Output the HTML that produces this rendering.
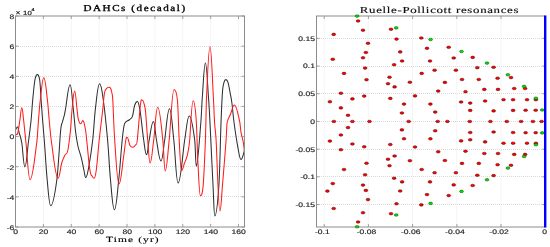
<!DOCTYPE html><html><head><meta charset="utf-8"><style>html,body{margin:0;padding:0;background:#fff;width:550px;height:247px;overflow:hidden}svg{display:block;filter:blur(0.3px);text-rendering:geometricPrecision}</style></head><body>
<svg width="550" height="247" viewBox="0 0 550 247">
<rect width="550" height="247" fill="#fff"/>
<g stroke="#f3f3f3" stroke-width="0.9"><line x1="43.38" y1="16.00" x2="43.38" y2="227.00"/><line x1="71.25" y1="16.00" x2="71.25" y2="227.00"/><line x1="99.12" y1="16.00" x2="99.12" y2="227.00"/><line x1="127.00" y1="16.00" x2="127.00" y2="227.00"/><line x1="154.88" y1="16.00" x2="154.88" y2="227.00"/><line x1="182.75" y1="16.00" x2="182.75" y2="227.00"/><line x1="210.62" y1="16.00" x2="210.62" y2="227.00"/><line x1="238.50" y1="16.00" x2="238.50" y2="227.00"/></g>
<g stroke="#d6d6d6" stroke-width="0.9" stroke-dasharray="1,1"><line x1="16.00" y1="196.50" x2="244.50" y2="196.50"/><line x1="16.00" y1="166.50" x2="244.50" y2="166.50"/><line x1="16.00" y1="136.50" x2="244.50" y2="136.50"/><line x1="16.00" y1="106.50" x2="244.50" y2="106.50"/><line x1="16.00" y1="76.50" x2="244.50" y2="76.50"/><line x1="16.00" y1="46.50" x2="244.50" y2="46.50"/></g>
<g stroke="#f3f3f3" stroke-width="0.9"><line x1="324.20" y1="16.00" x2="324.20" y2="227.00"/><line x1="368.40" y1="16.00" x2="368.40" y2="227.00"/><line x1="412.60" y1="16.00" x2="412.60" y2="227.00"/><line x1="456.80" y1="16.00" x2="456.80" y2="227.00"/><line x1="501.00" y1="16.00" x2="501.00" y2="227.00"/></g>
<g stroke="#d6d6d6" stroke-width="0.9" stroke-dasharray="1,1"><line x1="317.00" y1="204.50" x2="545.20" y2="204.50"/><line x1="317.00" y1="176.50" x2="545.20" y2="176.50"/><line x1="317.00" y1="149.50" x2="545.20" y2="149.50"/><line x1="317.00" y1="121.50" x2="545.20" y2="121.50"/><line x1="317.00" y1="93.50" x2="545.20" y2="93.50"/><line x1="317.00" y1="66.50" x2="545.20" y2="66.50"/><line x1="317.00" y1="38.50" x2="545.20" y2="38.50"/></g>
<path d="M15.50,130.20 C15.85,129.63 16.73,126.80 17.60,126.80 C18.23,126.80 18.37,129.67 19.00,132.10 C19.70,134.80 20.82,137.20 21.80,143.00 C22.78,148.80 23.50,166.90 24.90,166.90 C26.43,166.90 27.27,150.82 28.30,143.00 C29.33,135.18 30.37,127.17 31.10,120.00 C31.82,112.96 32.07,106.67 32.70,100.00 C33.33,93.33 34.13,84.23 34.90,80.00 C35.67,75.77 36.22,74.60 37.30,74.60 C38.38,74.60 39.07,75.77 39.70,80.00 C40.33,84.21 40.62,93.33 41.10,100.00 C41.58,106.67 42.03,112.83 42.60,120.00 C43.17,127.17 43.73,133.00 44.50,143.00 C45.27,153.00 46.17,169.55 47.20,180.00 C48.23,190.45 49.12,205.70 50.70,205.70 C53.10,205.70 55.15,192.45 56.80,180.00 C58.45,167.55 59.67,140.67 60.60,131.00 C61.41,122.61 61.78,124.60 62.40,122.00 C63.02,119.40 63.75,117.73 64.30,115.40 C64.85,113.07 65.07,111.33 65.70,108.00 C66.67,102.88 68.22,84.70 70.10,84.70 C71.50,84.70 72.30,100.28 73.20,108.00 C74.10,115.72 74.73,124.75 75.50,131.00 C76.27,137.25 76.82,140.97 77.80,145.50 C78.78,150.03 80.35,153.95 81.40,158.20 C82.45,162.45 83.38,167.77 84.10,171.00 C84.82,174.23 84.98,177.60 85.70,177.60 C86.85,177.60 87.53,173.57 88.70,167.30 C89.87,161.03 91.57,149.88 92.70,140.00 C93.83,130.12 94.35,117.37 95.50,108.00 C96.65,98.63 97.75,83.80 99.60,83.80 C101.27,83.80 101.97,90.63 103.30,100.00 C104.63,109.37 106.40,126.67 107.60,140.00 C108.80,153.33 109.37,168.37 110.50,180.00 C111.63,191.63 112.65,209.80 114.40,209.80 C116.34,209.80 117.40,191.63 118.70,180.00 C120.00,168.37 121.22,149.38 122.20,140.00 C123.18,130.62 123.52,126.83 124.60,123.70 C125.75,120.37 127.80,121.22 129.10,120.00 C130.40,118.78 131.48,118.82 132.40,116.40 C133.32,113.98 133.78,107.98 134.60,105.50 C135.42,103.02 136.09,101.50 137.30,101.50 C138.56,101.50 139.03,104.48 140.10,110.90 C141.17,117.32 142.62,132.72 143.70,140.00 C144.78,147.28 145.29,154.60 146.60,154.60 C147.77,154.60 148.07,145.52 149.20,140.00 C150.33,134.48 151.57,121.50 153.40,121.50 C154.80,121.50 155.23,133.42 156.50,140.00 C157.77,146.58 158.97,161.00 161.00,161.00 C162.66,161.00 163.28,148.72 164.70,140.00 C166.12,131.28 167.34,108.70 169.50,108.70 C171.44,108.70 172.37,127.62 173.80,140.00 C175.23,152.38 176.16,183.00 178.10,183.00 C180.82,183.00 182.83,151.17 184.70,140.00 C186.57,128.83 187.23,116.00 189.30,116.00 C191.73,116.00 193.53,131.63 194.70,140.00 C195.42,145.16 195.58,166.20 196.30,166.20 C197.83,166.20 199.78,134.70 200.80,123.00 C201.52,114.71 201.68,105.39 202.40,96.00 C203.17,86.00 204.05,63.00 205.40,63.00 C206.75,63.00 207.63,86.00 208.40,96.00 C209.12,105.39 209.28,109.07 210.00,123.00 C210.77,137.83 212.20,169.50 213.00,185.00 C213.80,200.50 213.99,216.00 214.80,216.00 C216.28,216.00 217.87,200.50 218.90,185.00 C219.84,170.83 220.40,138.58 221.00,123.00 C221.60,107.42 222.00,98.27 222.50,91.50 C223.00,84.73 223.45,84.38 224.00,82.40 C224.55,80.42 224.99,79.60 225.80,79.60 C226.79,79.60 227.27,80.12 228.00,82.40 C228.73,84.68 229.55,89.87 230.20,93.30 C230.85,96.73 231.25,98.05 231.90,103.00 C232.55,107.95 233.11,115.74 234.10,123.00 C235.15,130.70 237.05,143.13 238.20,149.20 C239.35,155.27 239.74,159.40 241.00,159.40 C242.26,159.40 243.23,154.47 243.80,152.90 C244.07,152.15 244.30,150.48 244.40,150.00" fill="none" stroke="#2e2e2e" stroke-width="1.05" stroke-linejoin="round"/>
<path d="M15.50,134.90 C15.88,134.58 17.07,135.48 17.80,133.00 C18.53,130.52 19.23,124.22 19.90,120.00 C20.57,115.78 20.95,107.70 21.80,107.70 C22.61,107.70 22.90,114.12 23.60,120.00 C24.30,125.88 24.92,133.08 26.00,143.00 C27.08,152.95 28.26,179.70 30.10,179.70 C32.78,179.70 35.30,152.95 36.70,143.00 C37.51,137.24 37.90,127.17 38.50,120.00 C39.10,112.83 39.49,106.45 40.30,100.00 C41.18,92.97 42.22,77.80 43.80,77.80 C45.42,77.80 46.50,92.97 47.40,100.00 C48.21,106.33 48.50,112.83 49.20,120.00 C49.90,127.17 50.52,135.84 51.60,143.00 C53.07,152.72 55.48,178.30 58.00,178.30 C59.66,178.30 60.53,166.88 61.70,163.00 C62.87,159.12 64.00,157.00 65.00,155.00 C66.00,153.00 66.80,155.00 67.70,151.00 C68.60,147.00 69.65,138.17 70.40,131.00 C71.15,123.83 71.48,114.67 72.20,108.00 C72.92,101.33 73.58,91.00 74.70,91.00 C75.69,91.00 76.30,103.30 76.90,108.00 C77.50,112.70 77.68,116.57 78.30,119.20 C78.92,121.83 79.56,123.80 80.60,123.80 C81.64,123.80 81.98,120.60 82.90,120.60 C83.53,120.60 83.83,122.07 84.30,123.80 C84.77,125.53 85.22,127.47 85.70,131.00 C86.18,134.53 86.65,139.67 87.20,145.00 C87.75,150.33 88.43,158.25 89.00,163.00 C89.57,167.75 90.10,171.33 90.60,173.50 C91.10,175.67 91.43,175.20 92.00,176.00 C92.57,176.80 93.10,178.30 94.00,178.30 C95.03,178.30 95.43,176.38 96.30,170.00 C97.17,163.62 98.17,149.72 99.20,140.00 C100.23,130.28 101.62,119.53 102.50,111.70 C103.38,103.87 103.83,96.85 104.50,93.00 C105.17,89.15 105.80,89.55 106.50,88.60 C107.20,87.65 107.71,87.30 108.70,87.30 C109.55,87.30 110.07,87.25 110.60,88.20 C111.13,89.15 111.53,91.03 111.90,93.00 C112.27,94.97 112.39,93.20 112.80,100.00 C113.27,107.83 113.84,128.42 114.70,140.00 C115.73,154.00 117.06,184.00 119.00,184.00 C120.98,184.00 122.27,165.53 123.40,158.20 C124.48,151.21 125.15,143.45 125.80,140.00 C126.45,136.55 126.62,137.50 127.30,137.50 C128.35,137.50 129.08,143.87 130.00,145.50 C130.92,147.13 131.54,147.30 132.80,147.30 C134.02,147.30 134.75,146.22 135.50,145.00 C136.25,143.78 136.49,146.64 137.30,140.00 C138.13,133.17 139.65,110.62 140.50,104.00 C141.35,97.38 141.55,100.30 142.40,100.30 C143.30,100.30 143.87,103.05 144.40,105.00 C144.93,106.95 145.06,106.27 145.60,112.00 C146.15,117.83 146.95,131.50 147.70,140.00 C148.45,148.50 149.02,163.00 150.10,163.00 C151.60,163.00 152.43,149.28 153.70,140.00 C154.97,130.72 155.90,107.30 157.70,107.30 C159.97,107.30 161.55,129.38 162.80,140.00 C163.88,149.17 164.12,171.00 165.20,171.00 C166.80,171.00 167.73,153.58 169.20,140.00 C170.67,126.42 171.95,89.50 174.00,89.50 C175.53,89.50 176.53,91.58 177.40,100.00 C178.21,107.87 178.52,128.23 179.20,140.00 C179.88,151.77 180.47,170.60 181.50,170.60 C182.76,170.60 183.38,166.07 184.30,163.70 C185.22,161.33 186.25,159.13 187.00,156.40 C187.75,153.67 188.35,150.03 188.80,147.30 C189.21,144.84 189.29,144.38 189.70,140.00 C190.42,132.25 191.57,100.80 193.10,100.80 C194.45,100.80 195.30,108.02 196.10,118.20 C196.90,128.38 197.18,148.97 197.90,161.90 C198.62,174.83 199.28,195.80 200.40,195.80 C201.66,195.80 202.37,194.30 203.20,185.00 C204.03,175.70 204.83,154.83 205.40,140.00 C205.94,125.86 206.06,106.94 206.60,96.00 C207.37,80.47 208.47,46.80 210.00,46.80 C211.49,46.80 212.53,83.30 213.30,96.00 C213.88,105.69 214.13,115.67 214.60,123.00 C215.07,130.33 215.42,128.79 216.10,140.00 C216.98,154.67 218.30,211.00 219.90,211.00 C221.07,211.00 221.47,196.83 222.50,185.00 C223.53,173.17 225.33,150.37 226.10,140.00 C226.55,133.92 226.65,125.37 227.10,122.80 C227.87,118.42 229.48,116.67 230.70,113.70 C231.92,110.73 232.73,105.00 234.40,105.00 C236.62,105.00 238.50,116.58 239.60,121.10 C240.23,123.69 240.38,128.57 241.00,132.10 C241.62,135.63 242.73,139.15 243.30,142.30 C243.80,145.05 244.22,149.55 244.40,151.00" fill="none" stroke="#ff1a1a" stroke-width="1.05" stroke-linejoin="round"/>
<path d="M15.50,227.00v-3.00M15.50,16.00v3.00M43.38,227.00v-3.00M43.38,16.00v3.00M71.25,227.00v-3.00M71.25,16.00v3.00M99.12,227.00v-3.00M99.12,16.00v3.00M127.00,227.00v-3.00M127.00,16.00v3.00M154.88,227.00v-3.00M154.88,16.00v3.00M182.75,227.00v-3.00M182.75,16.00v3.00M210.62,227.00v-3.00M210.62,16.00v3.00M238.50,227.00v-3.00M238.50,16.00v3.00M15.50,227.00h3.00M244.50,227.00h-3.00M15.50,196.86h3.00M244.50,196.86h-3.00M15.50,166.71h3.00M244.50,166.71h-3.00M15.50,136.57h3.00M244.50,136.57h-3.00M15.50,106.43h3.00M244.50,106.43h-3.00M15.50,76.29h3.00M244.50,76.29h-3.00M15.50,46.14h3.00M244.50,46.14h-3.00M15.50,16.00h3.00M244.50,16.00h-3.00" stroke="#8c8c8c" stroke-width="0.8" fill="none"/>
<rect x="15.50" y="16.00" width="229.00" height="211.00" fill="none" stroke="#8c8c8c" stroke-width="1"/>
<path d="M324.20,227.00v-3.00M324.20,16.00v3.00M368.40,227.00v-3.00M368.40,16.00v3.00M412.60,227.00v-3.00M412.60,16.00v3.00M456.80,227.00v-3.00M456.80,16.00v3.00M501.00,227.00v-3.00M501.00,16.00v3.00M545.20,227.00v-3.00M545.20,16.00v3.00M316.50,204.55h3.00M545.20,204.55h-3.00M316.50,176.85h3.00M545.20,176.85h-3.00M316.50,149.15h3.00M545.20,149.15h-3.00M316.50,121.45h3.00M545.20,121.45h-3.00M316.50,93.75h3.00M545.20,93.75h-3.00M316.50,66.05h3.00M545.20,66.05h-3.00M316.50,38.35h3.00M545.20,38.35h-3.00" stroke="#8c8c8c" stroke-width="0.8" fill="none"/>
<rect x="316.50" y="16.00" width="228.70" height="211.00" fill="none" stroke="#8c8c8c" stroke-width="1"/>
<ellipse cx="358.10" cy="20.95" rx="1.95" ry="1.30" fill="#ff0000" stroke="#3a0000" stroke-width="0.45"/><ellipse cx="363.00" cy="30.20" rx="1.95" ry="1.30" fill="#ff0000" stroke="#3a0000" stroke-width="0.45"/><ellipse cx="333.70" cy="34.40" rx="1.95" ry="1.30" fill="#ff0000" stroke="#3a0000" stroke-width="0.45"/><ellipse cx="391.00" cy="29.20" rx="1.95" ry="1.30" fill="#ff0000" stroke="#3a0000" stroke-width="0.45"/><ellipse cx="396.50" cy="39.10" rx="1.95" ry="1.30" fill="#ff0000" stroke="#3a0000" stroke-width="0.45"/><ellipse cx="368.00" cy="43.30" rx="1.95" ry="1.30" fill="#ff0000" stroke="#3a0000" stroke-width="0.45"/><ellipse cx="365.90" cy="52.50" rx="1.95" ry="1.30" fill="#ff0000" stroke="#3a0000" stroke-width="0.45"/><ellipse cx="363.00" cy="57.80" rx="1.95" ry="1.30" fill="#ff0000" stroke="#3a0000" stroke-width="0.45"/><ellipse cx="332.80" cy="59.30" rx="1.95" ry="1.30" fill="#ff0000" stroke="#3a0000" stroke-width="0.45"/><ellipse cx="400.20" cy="51.90" rx="1.95" ry="1.30" fill="#ff0000" stroke="#3a0000" stroke-width="0.45"/><ellipse cx="402.10" cy="61.00" rx="1.95" ry="1.30" fill="#ff0000" stroke="#3a0000" stroke-width="0.45"/><ellipse cx="394.10" cy="64.70" rx="1.95" ry="1.30" fill="#ff0000" stroke="#3a0000" stroke-width="0.45"/><ellipse cx="421.30" cy="38.00" rx="1.95" ry="1.30" fill="#ff0000" stroke="#3a0000" stroke-width="0.45"/><ellipse cx="427.00" cy="48.30" rx="1.95" ry="1.30" fill="#ff0000" stroke="#3a0000" stroke-width="0.45"/><ellipse cx="430.00" cy="61.00" rx="1.95" ry="1.30" fill="#ff0000" stroke="#3a0000" stroke-width="0.45"/><ellipse cx="448.70" cy="47.30" rx="1.95" ry="1.30" fill="#ff0000" stroke="#3a0000" stroke-width="0.45"/><ellipse cx="453.70" cy="58.00" rx="1.95" ry="1.30" fill="#ff0000" stroke="#3a0000" stroke-width="0.45"/><ellipse cx="472.70" cy="57.40" rx="1.95" ry="1.30" fill="#ff0000" stroke="#3a0000" stroke-width="0.45"/><ellipse cx="365.10" cy="68.10" rx="1.95" ry="1.30" fill="#ff0000" stroke="#3a0000" stroke-width="0.45"/><ellipse cx="344.00" cy="73.40" rx="1.95" ry="1.30" fill="#ff0000" stroke="#3a0000" stroke-width="0.45"/><ellipse cx="421.70" cy="73.40" rx="1.95" ry="1.30" fill="#ff0000" stroke="#3a0000" stroke-width="0.45"/><ellipse cx="389.50" cy="77.20" rx="1.95" ry="1.30" fill="#ff0000" stroke="#3a0000" stroke-width="0.45"/><ellipse cx="366.50" cy="79.70" rx="1.95" ry="1.30" fill="#ff0000" stroke="#3a0000" stroke-width="0.45"/><ellipse cx="388.00" cy="83.70" rx="1.95" ry="1.30" fill="#ff0000" stroke="#3a0000" stroke-width="0.45"/><ellipse cx="409.90" cy="82.20" rx="1.95" ry="1.30" fill="#ff0000" stroke="#3a0000" stroke-width="0.45"/><ellipse cx="394.60" cy="86.90" rx="1.95" ry="1.30" fill="#ff0000" stroke="#3a0000" stroke-width="0.45"/><ellipse cx="340.90" cy="93.20" rx="1.95" ry="1.30" fill="#ff0000" stroke="#3a0000" stroke-width="0.45"/><ellipse cx="364.20" cy="96.10" rx="1.95" ry="1.30" fill="#ff0000" stroke="#3a0000" stroke-width="0.45"/><ellipse cx="415.00" cy="95.90" rx="1.95" ry="1.30" fill="#ff0000" stroke="#3a0000" stroke-width="0.45"/><ellipse cx="329.90" cy="101.80" rx="1.95" ry="1.30" fill="#ff0000" stroke="#3a0000" stroke-width="0.45"/><ellipse cx="352.40" cy="98.90" rx="1.95" ry="1.30" fill="#ff0000" stroke="#3a0000" stroke-width="0.45"/><ellipse cx="390.30" cy="98.40" rx="1.95" ry="1.30" fill="#ff0000" stroke="#3a0000" stroke-width="0.45"/><ellipse cx="404.00" cy="104.10" rx="1.95" ry="1.30" fill="#ff0000" stroke="#3a0000" stroke-width="0.45"/><ellipse cx="340.90" cy="107.90" rx="1.95" ry="1.30" fill="#ff0000" stroke="#3a0000" stroke-width="0.45"/><ellipse cx="401.90" cy="113.00" rx="1.95" ry="1.30" fill="#ff0000" stroke="#3a0000" stroke-width="0.45"/><ellipse cx="430.40" cy="104.10" rx="1.95" ry="1.30" fill="#ff0000" stroke="#3a0000" stroke-width="0.45"/><ellipse cx="348.00" cy="115.30" rx="1.95" ry="1.30" fill="#ff0000" stroke="#3a0000" stroke-width="0.45"/><ellipse cx="434.60" cy="70.20" rx="1.95" ry="1.30" fill="#ff0000" stroke="#3a0000" stroke-width="0.45"/><ellipse cx="455.90" cy="70.20" rx="1.95" ry="1.30" fill="#ff0000" stroke="#3a0000" stroke-width="0.45"/><ellipse cx="477.30" cy="67.70" rx="1.95" ry="1.30" fill="#ff0000" stroke="#3a0000" stroke-width="0.45"/><ellipse cx="493.60" cy="67.30" rx="1.95" ry="1.30" fill="#ff0000" stroke="#3a0000" stroke-width="0.45"/><ellipse cx="511.00" cy="77.60" rx="1.95" ry="1.30" fill="#ff0000" stroke="#3a0000" stroke-width="0.45"/><ellipse cx="497.60" cy="78.20" rx="1.95" ry="1.30" fill="#ff0000" stroke="#3a0000" stroke-width="0.45"/><ellipse cx="444.90" cy="82.40" rx="1.95" ry="1.30" fill="#ff0000" stroke="#3a0000" stroke-width="0.45"/><ellipse cx="462.00" cy="79.50" rx="1.95" ry="1.30" fill="#ff0000" stroke="#3a0000" stroke-width="0.45"/><ellipse cx="478.80" cy="79.50" rx="1.95" ry="1.30" fill="#ff0000" stroke="#3a0000" stroke-width="0.45"/><ellipse cx="525.10" cy="88.50" rx="1.95" ry="1.30" fill="#ff0000" stroke="#3a0000" stroke-width="0.45"/><ellipse cx="438.20" cy="91.10" rx="1.95" ry="1.30" fill="#ff0000" stroke="#3a0000" stroke-width="0.45"/><ellipse cx="465.50" cy="91.70" rx="1.95" ry="1.30" fill="#ff0000" stroke="#3a0000" stroke-width="0.45"/><ellipse cx="484.30" cy="89.40" rx="1.95" ry="1.30" fill="#ff0000" stroke="#3a0000" stroke-width="0.45"/><ellipse cx="498.00" cy="89.40" rx="1.95" ry="1.30" fill="#ff0000" stroke="#3a0000" stroke-width="0.45"/><ellipse cx="514.20" cy="88.50" rx="1.95" ry="1.30" fill="#ff0000" stroke="#3a0000" stroke-width="0.45"/><ellipse cx="535.90" cy="99.70" rx="1.95" ry="1.30" fill="#ff0000" stroke="#3a0000" stroke-width="0.45"/><ellipse cx="461.10" cy="102.00" rx="1.95" ry="1.30" fill="#ff0000" stroke="#3a0000" stroke-width="0.45"/><ellipse cx="470.20" cy="103.10" rx="1.95" ry="1.30" fill="#ff0000" stroke="#3a0000" stroke-width="0.45"/><ellipse cx="485.10" cy="101.00" rx="1.95" ry="1.30" fill="#ff0000" stroke="#3a0000" stroke-width="0.45"/><ellipse cx="503.50" cy="99.70" rx="1.95" ry="1.30" fill="#ff0000" stroke="#3a0000" stroke-width="0.45"/><ellipse cx="513.10" cy="99.70" rx="1.95" ry="1.30" fill="#ff0000" stroke="#3a0000" stroke-width="0.45"/><ellipse cx="527.00" cy="99.70" rx="1.95" ry="1.30" fill="#ff0000" stroke="#3a0000" stroke-width="0.45"/><ellipse cx="435.20" cy="112.10" rx="1.95" ry="1.30" fill="#ff0000" stroke="#3a0000" stroke-width="0.45"/><ellipse cx="470.20" cy="110.40" rx="1.95" ry="1.30" fill="#ff0000" stroke="#3a0000" stroke-width="0.45"/><ellipse cx="493.60" cy="110.90" rx="1.95" ry="1.30" fill="#ff0000" stroke="#3a0000" stroke-width="0.45"/><ellipse cx="513.10" cy="110.40" rx="1.95" ry="1.30" fill="#ff0000" stroke="#3a0000" stroke-width="0.45"/><ellipse cx="525.60" cy="110.20" rx="1.95" ry="1.30" fill="#ff0000" stroke="#3a0000" stroke-width="0.45"/><ellipse cx="535.70" cy="110.20" rx="1.95" ry="1.30" fill="#ff0000" stroke="#3a0000" stroke-width="0.45"/><ellipse cx="358.10" cy="221.95" rx="1.95" ry="1.30" fill="#ff0000" stroke="#3a0000" stroke-width="0.45"/><ellipse cx="363.00" cy="212.70" rx="1.95" ry="1.30" fill="#ff0000" stroke="#3a0000" stroke-width="0.45"/><ellipse cx="333.70" cy="208.50" rx="1.95" ry="1.30" fill="#ff0000" stroke="#3a0000" stroke-width="0.45"/><ellipse cx="391.00" cy="213.70" rx="1.95" ry="1.30" fill="#ff0000" stroke="#3a0000" stroke-width="0.45"/><ellipse cx="396.50" cy="203.80" rx="1.95" ry="1.30" fill="#ff0000" stroke="#3a0000" stroke-width="0.45"/><ellipse cx="368.00" cy="199.60" rx="1.95" ry="1.30" fill="#ff0000" stroke="#3a0000" stroke-width="0.45"/><ellipse cx="365.90" cy="190.40" rx="1.95" ry="1.30" fill="#ff0000" stroke="#3a0000" stroke-width="0.45"/><ellipse cx="363.00" cy="185.10" rx="1.95" ry="1.30" fill="#ff0000" stroke="#3a0000" stroke-width="0.45"/><ellipse cx="332.80" cy="183.60" rx="1.95" ry="1.30" fill="#ff0000" stroke="#3a0000" stroke-width="0.45"/><ellipse cx="400.20" cy="191.00" rx="1.95" ry="1.30" fill="#ff0000" stroke="#3a0000" stroke-width="0.45"/><ellipse cx="402.10" cy="181.90" rx="1.95" ry="1.30" fill="#ff0000" stroke="#3a0000" stroke-width="0.45"/><ellipse cx="394.10" cy="178.20" rx="1.95" ry="1.30" fill="#ff0000" stroke="#3a0000" stroke-width="0.45"/><ellipse cx="421.30" cy="204.90" rx="1.95" ry="1.30" fill="#ff0000" stroke="#3a0000" stroke-width="0.45"/><ellipse cx="427.00" cy="194.60" rx="1.95" ry="1.30" fill="#ff0000" stroke="#3a0000" stroke-width="0.45"/><ellipse cx="430.00" cy="181.90" rx="1.95" ry="1.30" fill="#ff0000" stroke="#3a0000" stroke-width="0.45"/><ellipse cx="448.70" cy="195.60" rx="1.95" ry="1.30" fill="#ff0000" stroke="#3a0000" stroke-width="0.45"/><ellipse cx="453.70" cy="184.90" rx="1.95" ry="1.30" fill="#ff0000" stroke="#3a0000" stroke-width="0.45"/><ellipse cx="472.70" cy="185.50" rx="1.95" ry="1.30" fill="#ff0000" stroke="#3a0000" stroke-width="0.45"/><ellipse cx="365.10" cy="174.80" rx="1.95" ry="1.30" fill="#ff0000" stroke="#3a0000" stroke-width="0.45"/><ellipse cx="344.00" cy="169.50" rx="1.95" ry="1.30" fill="#ff0000" stroke="#3a0000" stroke-width="0.45"/><ellipse cx="421.70" cy="169.50" rx="1.95" ry="1.30" fill="#ff0000" stroke="#3a0000" stroke-width="0.45"/><ellipse cx="389.50" cy="165.70" rx="1.95" ry="1.30" fill="#ff0000" stroke="#3a0000" stroke-width="0.45"/><ellipse cx="366.50" cy="163.20" rx="1.95" ry="1.30" fill="#ff0000" stroke="#3a0000" stroke-width="0.45"/><ellipse cx="388.00" cy="159.20" rx="1.95" ry="1.30" fill="#ff0000" stroke="#3a0000" stroke-width="0.45"/><ellipse cx="409.90" cy="160.70" rx="1.95" ry="1.30" fill="#ff0000" stroke="#3a0000" stroke-width="0.45"/><ellipse cx="394.60" cy="156.00" rx="1.95" ry="1.30" fill="#ff0000" stroke="#3a0000" stroke-width="0.45"/><ellipse cx="340.90" cy="149.70" rx="1.95" ry="1.30" fill="#ff0000" stroke="#3a0000" stroke-width="0.45"/><ellipse cx="364.20" cy="146.80" rx="1.95" ry="1.30" fill="#ff0000" stroke="#3a0000" stroke-width="0.45"/><ellipse cx="415.00" cy="147.00" rx="1.95" ry="1.30" fill="#ff0000" stroke="#3a0000" stroke-width="0.45"/><ellipse cx="329.90" cy="141.10" rx="1.95" ry="1.30" fill="#ff0000" stroke="#3a0000" stroke-width="0.45"/><ellipse cx="352.40" cy="144.00" rx="1.95" ry="1.30" fill="#ff0000" stroke="#3a0000" stroke-width="0.45"/><ellipse cx="390.30" cy="144.50" rx="1.95" ry="1.30" fill="#ff0000" stroke="#3a0000" stroke-width="0.45"/><ellipse cx="404.00" cy="138.80" rx="1.95" ry="1.30" fill="#ff0000" stroke="#3a0000" stroke-width="0.45"/><ellipse cx="340.90" cy="135.00" rx="1.95" ry="1.30" fill="#ff0000" stroke="#3a0000" stroke-width="0.45"/><ellipse cx="401.90" cy="129.90" rx="1.95" ry="1.30" fill="#ff0000" stroke="#3a0000" stroke-width="0.45"/><ellipse cx="430.40" cy="138.80" rx="1.95" ry="1.30" fill="#ff0000" stroke="#3a0000" stroke-width="0.45"/><ellipse cx="348.00" cy="127.60" rx="1.95" ry="1.30" fill="#ff0000" stroke="#3a0000" stroke-width="0.45"/><ellipse cx="434.60" cy="172.70" rx="1.95" ry="1.30" fill="#ff0000" stroke="#3a0000" stroke-width="0.45"/><ellipse cx="455.90" cy="172.70" rx="1.95" ry="1.30" fill="#ff0000" stroke="#3a0000" stroke-width="0.45"/><ellipse cx="477.30" cy="175.20" rx="1.95" ry="1.30" fill="#ff0000" stroke="#3a0000" stroke-width="0.45"/><ellipse cx="493.60" cy="175.60" rx="1.95" ry="1.30" fill="#ff0000" stroke="#3a0000" stroke-width="0.45"/><ellipse cx="511.00" cy="165.30" rx="1.95" ry="1.30" fill="#ff0000" stroke="#3a0000" stroke-width="0.45"/><ellipse cx="497.60" cy="164.70" rx="1.95" ry="1.30" fill="#ff0000" stroke="#3a0000" stroke-width="0.45"/><ellipse cx="444.90" cy="160.50" rx="1.95" ry="1.30" fill="#ff0000" stroke="#3a0000" stroke-width="0.45"/><ellipse cx="462.00" cy="163.40" rx="1.95" ry="1.30" fill="#ff0000" stroke="#3a0000" stroke-width="0.45"/><ellipse cx="478.80" cy="163.40" rx="1.95" ry="1.30" fill="#ff0000" stroke="#3a0000" stroke-width="0.45"/><ellipse cx="525.10" cy="154.40" rx="1.95" ry="1.30" fill="#ff0000" stroke="#3a0000" stroke-width="0.45"/><ellipse cx="438.20" cy="151.80" rx="1.95" ry="1.30" fill="#ff0000" stroke="#3a0000" stroke-width="0.45"/><ellipse cx="465.50" cy="151.20" rx="1.95" ry="1.30" fill="#ff0000" stroke="#3a0000" stroke-width="0.45"/><ellipse cx="484.30" cy="153.50" rx="1.95" ry="1.30" fill="#ff0000" stroke="#3a0000" stroke-width="0.45"/><ellipse cx="498.00" cy="153.50" rx="1.95" ry="1.30" fill="#ff0000" stroke="#3a0000" stroke-width="0.45"/><ellipse cx="514.20" cy="154.40" rx="1.95" ry="1.30" fill="#ff0000" stroke="#3a0000" stroke-width="0.45"/><ellipse cx="535.90" cy="143.20" rx="1.95" ry="1.30" fill="#ff0000" stroke="#3a0000" stroke-width="0.45"/><ellipse cx="461.10" cy="140.90" rx="1.95" ry="1.30" fill="#ff0000" stroke="#3a0000" stroke-width="0.45"/><ellipse cx="470.20" cy="139.80" rx="1.95" ry="1.30" fill="#ff0000" stroke="#3a0000" stroke-width="0.45"/><ellipse cx="485.10" cy="141.90" rx="1.95" ry="1.30" fill="#ff0000" stroke="#3a0000" stroke-width="0.45"/><ellipse cx="503.50" cy="143.20" rx="1.95" ry="1.30" fill="#ff0000" stroke="#3a0000" stroke-width="0.45"/><ellipse cx="513.10" cy="143.20" rx="1.95" ry="1.30" fill="#ff0000" stroke="#3a0000" stroke-width="0.45"/><ellipse cx="527.00" cy="143.20" rx="1.95" ry="1.30" fill="#ff0000" stroke="#3a0000" stroke-width="0.45"/><ellipse cx="435.20" cy="130.80" rx="1.95" ry="1.30" fill="#ff0000" stroke="#3a0000" stroke-width="0.45"/><ellipse cx="470.20" cy="132.50" rx="1.95" ry="1.30" fill="#ff0000" stroke="#3a0000" stroke-width="0.45"/><ellipse cx="493.60" cy="132.00" rx="1.95" ry="1.30" fill="#ff0000" stroke="#3a0000" stroke-width="0.45"/><ellipse cx="513.10" cy="132.50" rx="1.95" ry="1.30" fill="#ff0000" stroke="#3a0000" stroke-width="0.45"/><ellipse cx="525.60" cy="132.70" rx="1.95" ry="1.30" fill="#ff0000" stroke="#3a0000" stroke-width="0.45"/><ellipse cx="535.70" cy="132.70" rx="1.95" ry="1.30" fill="#ff0000" stroke="#3a0000" stroke-width="0.45"/><ellipse cx="333.90" cy="121.45" rx="1.95" ry="1.30" fill="#ff0000" stroke="#3a0000" stroke-width="0.45"/><ellipse cx="352.40" cy="121.45" rx="1.95" ry="1.30" fill="#ff0000" stroke="#3a0000" stroke-width="0.45"/><ellipse cx="369.50" cy="121.45" rx="1.95" ry="1.30" fill="#ff0000" stroke="#3a0000" stroke-width="0.45"/><ellipse cx="408.70" cy="121.45" rx="1.95" ry="1.30" fill="#ff0000" stroke="#3a0000" stroke-width="0.45"/><ellipse cx="437.70" cy="121.45" rx="1.95" ry="1.30" fill="#ff0000" stroke="#3a0000" stroke-width="0.45"/><ellipse cx="447.40" cy="121.45" rx="1.95" ry="1.30" fill="#ff0000" stroke="#3a0000" stroke-width="0.45"/><ellipse cx="469.80" cy="121.45" rx="1.95" ry="1.30" fill="#ff0000" stroke="#3a0000" stroke-width="0.45"/><ellipse cx="490.40" cy="121.45" rx="1.95" ry="1.30" fill="#ff0000" stroke="#3a0000" stroke-width="0.45"/><ellipse cx="506.80" cy="121.45" rx="1.95" ry="1.30" fill="#ff0000" stroke="#3a0000" stroke-width="0.45"/><ellipse cx="521.10" cy="121.45" rx="1.95" ry="1.30" fill="#ff0000" stroke="#3a0000" stroke-width="0.45"/><ellipse cx="532.90" cy="121.45" rx="1.95" ry="1.30" fill="#ff0000" stroke="#3a0000" stroke-width="0.45"/><ellipse cx="541.60" cy="121.45" rx="1.95" ry="1.30" fill="#ff0000" stroke="#3a0000" stroke-width="0.45"/><ellipse cx="327.40" cy="191.10" rx="1.95" ry="1.30" fill="#ff0000" stroke="#3a0000" stroke-width="0.45"/><ellipse cx="357.10" cy="16.10" rx="1.95" ry="1.30" fill="#00e000" stroke="#064006" stroke-width="0.45"/><ellipse cx="396.20" cy="27.90" rx="1.95" ry="1.30" fill="#00e000" stroke="#064006" stroke-width="0.45"/><ellipse cx="430.60" cy="39.50" rx="1.95" ry="1.30" fill="#00e000" stroke="#064006" stroke-width="0.45"/><ellipse cx="461.50" cy="51.50" rx="1.95" ry="1.30" fill="#00e000" stroke="#064006" stroke-width="0.45"/><ellipse cx="487.00" cy="63.10" rx="1.95" ry="1.30" fill="#00e000" stroke="#064006" stroke-width="0.45"/><ellipse cx="507.90" cy="74.80" rx="1.95" ry="1.30" fill="#00e000" stroke="#064006" stroke-width="0.45"/><ellipse cx="524.10" cy="86.40" rx="1.95" ry="1.30" fill="#00e000" stroke="#064006" stroke-width="0.45"/><ellipse cx="535.90" cy="98.20" rx="1.95" ry="1.30" fill="#00e000" stroke="#064006" stroke-width="0.45"/><ellipse cx="542.20" cy="110.00" rx="1.95" ry="1.30" fill="#00e000" stroke="#064006" stroke-width="0.45"/><ellipse cx="357.10" cy="226.80" rx="1.95" ry="1.30" fill="#00e000" stroke="#064006" stroke-width="0.45"/><ellipse cx="396.20" cy="215.00" rx="1.95" ry="1.30" fill="#00e000" stroke="#064006" stroke-width="0.45"/><ellipse cx="430.60" cy="203.40" rx="1.95" ry="1.30" fill="#00e000" stroke="#064006" stroke-width="0.45"/><ellipse cx="461.50" cy="191.40" rx="1.95" ry="1.30" fill="#00e000" stroke="#064006" stroke-width="0.45"/><ellipse cx="487.00" cy="179.80" rx="1.95" ry="1.30" fill="#00e000" stroke="#064006" stroke-width="0.45"/><ellipse cx="507.90" cy="168.10" rx="1.95" ry="1.30" fill="#00e000" stroke="#064006" stroke-width="0.45"/><ellipse cx="524.10" cy="156.50" rx="1.95" ry="1.30" fill="#00e000" stroke="#064006" stroke-width="0.45"/><ellipse cx="535.90" cy="144.70" rx="1.95" ry="1.30" fill="#00e000" stroke="#064006" stroke-width="0.45"/><ellipse cx="542.20" cy="132.90" rx="1.95" ry="1.30" fill="#00e000" stroke="#064006" stroke-width="0.45"/>
<line x1="545.2" y1="15.50" x2="545.2" y2="227.50" stroke="#0000ff" stroke-width="2.4"/>
<text transform="translate(14.30,229.90) scale(0.1300,0.1)" text-anchor="end" font-family="Liberation Sans, sans-serif" font-size="66.00" fill="#222" stroke="#222" stroke-width="1.6">-6</text><text transform="translate(14.30,199.76) scale(0.1300,0.1)" text-anchor="end" font-family="Liberation Sans, sans-serif" font-size="66.00" fill="#222" stroke="#222" stroke-width="1.6">-4</text><text transform="translate(14.30,169.61) scale(0.1300,0.1)" text-anchor="end" font-family="Liberation Sans, sans-serif" font-size="66.00" fill="#222" stroke="#222" stroke-width="1.6">-2</text><text transform="translate(14.30,139.47) scale(0.1300,0.1)" text-anchor="end" font-family="Liberation Sans, sans-serif" font-size="66.00" fill="#222" stroke="#222" stroke-width="1.6">0</text><text transform="translate(14.30,109.33) scale(0.1300,0.1)" text-anchor="end" font-family="Liberation Sans, sans-serif" font-size="66.00" fill="#222" stroke="#222" stroke-width="1.6">2</text><text transform="translate(14.30,79.19) scale(0.1300,0.1)" text-anchor="end" font-family="Liberation Sans, sans-serif" font-size="66.00" fill="#222" stroke="#222" stroke-width="1.6">4</text><text transform="translate(14.30,49.04) scale(0.1300,0.1)" text-anchor="end" font-family="Liberation Sans, sans-serif" font-size="66.00" fill="#222" stroke="#222" stroke-width="1.6">6</text><text transform="translate(14.30,18.90) scale(0.1300,0.1)" text-anchor="end" font-family="Liberation Sans, sans-serif" font-size="66.00" fill="#222" stroke="#222" stroke-width="1.6">8</text><text transform="translate(15.70,233.60) scale(0.1300,0.1)" text-anchor="middle" font-family="Liberation Sans, sans-serif" font-size="66.00" fill="#222" stroke="#222" stroke-width="1.6">0</text><text transform="translate(43.58,233.60) scale(0.1300,0.1)" text-anchor="middle" font-family="Liberation Sans, sans-serif" font-size="66.00" fill="#222" stroke="#222" stroke-width="1.6">20</text><text transform="translate(71.45,233.60) scale(0.1300,0.1)" text-anchor="middle" font-family="Liberation Sans, sans-serif" font-size="66.00" fill="#222" stroke="#222" stroke-width="1.6">40</text><text transform="translate(99.33,233.60) scale(0.1300,0.1)" text-anchor="middle" font-family="Liberation Sans, sans-serif" font-size="66.00" fill="#222" stroke="#222" stroke-width="1.6">60</text><text transform="translate(127.20,233.60) scale(0.1300,0.1)" text-anchor="middle" font-family="Liberation Sans, sans-serif" font-size="66.00" fill="#222" stroke="#222" stroke-width="1.6">80</text><text transform="translate(155.07,233.60) scale(0.1300,0.1)" text-anchor="middle" font-family="Liberation Sans, sans-serif" font-size="66.00" fill="#222" stroke="#222" stroke-width="1.6">100</text><text transform="translate(182.95,233.60) scale(0.1300,0.1)" text-anchor="middle" font-family="Liberation Sans, sans-serif" font-size="66.00" fill="#222" stroke="#222" stroke-width="1.6">120</text><text transform="translate(210.82,233.60) scale(0.1300,0.1)" text-anchor="middle" font-family="Liberation Sans, sans-serif" font-size="66.00" fill="#222" stroke="#222" stroke-width="1.6">140</text><text transform="translate(238.70,233.60) scale(0.1300,0.1)" text-anchor="middle" font-family="Liberation Sans, sans-serif" font-size="66.00" fill="#222" stroke="#222" stroke-width="1.6">160</text><text transform="translate(315.00,206.90) scale(0.1300,0.1)" text-anchor="end" font-family="Liberation Sans, sans-serif" font-size="66.00" fill="#222" stroke="#222" stroke-width="1.6">-0.15</text><text transform="translate(315.00,179.20) scale(0.1300,0.1)" text-anchor="end" font-family="Liberation Sans, sans-serif" font-size="66.00" fill="#222" stroke="#222" stroke-width="1.6">-0.1</text><text transform="translate(315.00,151.50) scale(0.1300,0.1)" text-anchor="end" font-family="Liberation Sans, sans-serif" font-size="66.00" fill="#222" stroke="#222" stroke-width="1.6">-0.05</text><text transform="translate(315.00,123.80) scale(0.1300,0.1)" text-anchor="end" font-family="Liberation Sans, sans-serif" font-size="66.00" fill="#222" stroke="#222" stroke-width="1.6">0</text><text transform="translate(315.00,96.10) scale(0.1300,0.1)" text-anchor="end" font-family="Liberation Sans, sans-serif" font-size="66.00" fill="#222" stroke="#222" stroke-width="1.6">0.05</text><text transform="translate(315.00,68.40) scale(0.1300,0.1)" text-anchor="end" font-family="Liberation Sans, sans-serif" font-size="66.00" fill="#222" stroke="#222" stroke-width="1.6">0.1</text><text transform="translate(315.00,40.70) scale(0.1300,0.1)" text-anchor="end" font-family="Liberation Sans, sans-serif" font-size="66.00" fill="#222" stroke="#222" stroke-width="1.6">0.15</text><text transform="translate(322.30,233.60) scale(0.1300,0.1)" text-anchor="middle" font-family="Liberation Sans, sans-serif" font-size="66.00" fill="#222" stroke="#222" stroke-width="1.6">-0.1</text><text transform="translate(366.50,233.60) scale(0.1300,0.1)" text-anchor="middle" font-family="Liberation Sans, sans-serif" font-size="66.00" fill="#222" stroke="#222" stroke-width="1.6">-0.08</text><text transform="translate(410.70,233.60) scale(0.1300,0.1)" text-anchor="middle" font-family="Liberation Sans, sans-serif" font-size="66.00" fill="#222" stroke="#222" stroke-width="1.6">-0.06</text><text transform="translate(454.90,233.60) scale(0.1300,0.1)" text-anchor="middle" font-family="Liberation Sans, sans-serif" font-size="66.00" fill="#222" stroke="#222" stroke-width="1.6">-0.04</text><text transform="translate(499.10,233.60) scale(0.1300,0.1)" text-anchor="middle" font-family="Liberation Sans, sans-serif" font-size="66.00" fill="#222" stroke="#222" stroke-width="1.6">-0.02</text><text transform="translate(544.60,233.60) scale(0.1300,0.1)" text-anchor="middle" font-family="Liberation Sans, sans-serif" font-size="66.00" fill="#222" stroke="#222" stroke-width="1.6">0</text>
<text transform="translate(15.7,15.0) scale(0.11,0.1)" font-family="Liberation Sans, sans-serif" font-size="70" fill="#111" stroke="#111" stroke-width="2">×</text>
<text transform="translate(23.1,14.9) scale(0.132,0.1)" font-family="Liberation Sans, sans-serif" font-size="59" fill="#222" stroke="#222" stroke-width="2">10</text>
<text transform="translate(31.6,10.8) scale(0.1300,0.1)" font-family="Liberation Sans, sans-serif" font-size="42" fill="#222" stroke="#222" stroke-width="2.5">4</text>
<text transform="translate(83.40,10.60) scale(1.220,1)" font-family="Liberation Serif, serif" font-weight="normal" font-size="9.10" fill="#000" stroke="#000" stroke-width="0.32" textLength="83.44" lengthAdjust="spacing">DAHCs (decadal)</text>
<text transform="translate(359.80,12.70) scale(1.400,1)" font-family="Liberation Serif, serif" font-weight="normal" font-size="9.20" fill="#111" stroke="#111" stroke-width="0.15" textLength="113.36" lengthAdjust="spacing">Ruelle-Pollicott resonances</text>
<text transform="translate(106.00,241.90) scale(1.450,1)" font-family="Liberation Serif, serif" font-weight="normal" font-size="7.90" fill="#000" stroke="#000" stroke-width="0.12" textLength="36.34" lengthAdjust="spacing">Time (yr)</text>
</svg></body></html>
